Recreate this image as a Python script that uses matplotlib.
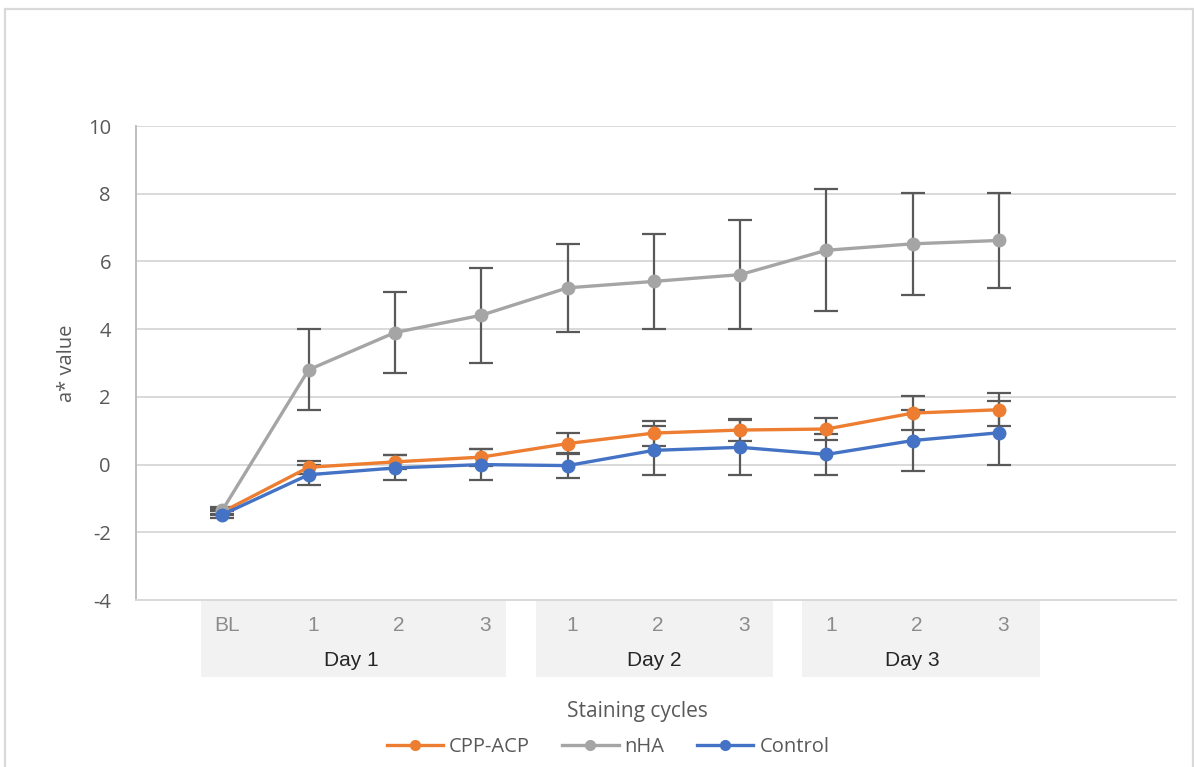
import numpy as np
import matplotlib
matplotlib.use("Agg")
import matplotlib.pyplot as plt
from matplotlib.patches import Rectangle
from matplotlib.lines import Line2D

# --- dados ---
ciclos = ['BL', '1', '2', '3', '1', '2', '3', '1', '2', '3']
dias = ['Day 1', 'Day 2', 'Day 3']
grupos = [(0, 3), (4, 6), (7, 9)]

cpp_acp = [-1.40, -0.08, 0.08, 0.22, 0.62, 0.93, 1.02, 1.05, 1.52, 1.62]
cpp_err = [0.10, 0.20, 0.20, 0.25, 0.30, 0.37, 0.33, 0.32, 0.50, 0.48]

nha = [-1.35, 2.80, 3.90, 4.41, 5.22, 5.41, 5.61, 6.33, 6.52, 6.62]
nha_err = [0.10, 1.20, 1.20, 1.40, 1.30, 1.40, 1.60, 1.80, 1.50, 1.40]

controle = [-1.48, -0.30, -0.10, 0.00, -0.03, 0.42, 0.51, 0.30, 0.71, 0.94]
controle_err = [0.10, 0.30, 0.37, 0.47, 0.37, 0.72, 0.81, 0.60, 0.90, 0.95]

series = [
    ('CPP-ACP', cpp_acp, cpp_err, '#ED7D31'),
    ('nHA', nha, nha_err, '#A5A5A5'),
    ('Control', controle, controle_err, '#4472C4'),
]

fonte = ['Open Sans', 'DejaVu Sans']
fonte_cat = ['Liberation Sans Narrow', 'Liberation Sans', 'DejaVu Sans']
plt.rcParams['font.family'] = fonte
plt.rcParams['axes.unicode_minus'] = False

fig = plt.figure(figsize=(11.94, 7.67), dpi=100)
ax = fig.add_axes([136 / 1194, 1 - 600 / 767, 1040 / 1194, 474 / 767])

x = np.arange(len(ciclos))
for nome, vals, err, cor in series:
    ax.errorbar(x, vals, yerr=err, color=cor, lw=2.4, marker='o', ms=9,
                ecolor='#595959', elinewidth=1.6, capsize=8.5, capthick=1.6,
                label=nome, zorder=3)

ax.set_xlim(-1, 11.05)
ax.set_ylim(-4, 10)
ax.set_yticks(np.arange(-4, 11, 2))
ax.grid(axis='y', color='#D9D9D9', lw=1.4)
ax.set_axisbelow(True)
for lado in ['top', 'right']:
    ax.spines[lado].set_visible(False)
ax.spines['left'].set_color('#BFBFBF')
ax.spines['left'].set_linewidth(1.4)
ax.spines['bottom'].set_color('#D9D9D9')
ax.spines['bottom'].set_linewidth(1.4)
ax.tick_params(axis='y', length=0, pad=18, labelsize=14.5, labelcolor='#595959')
ax.set_xticks([])

# rotulos de categoria em dois niveis, com fundo cinza
trans = ax.get_xaxis_transform()
pads = [(0.25, 0.29), (0.36, 0.38), (0.28, 0.47)]
for (ini, fim), dia, (pe, pd) in zip(grupos, dias, pads):
    ax.add_patch(Rectangle((ini - pe, -0.163), (fim + pd) - (ini - pe), 0.163,
                           transform=trans, facecolor='#F2F2F2', edgecolor='none',
                           clip_on=False, zorder=0))
    ax.text((ini + fim) / 2, -0.127, dia, transform=trans, ha='center', va='center',
            fontsize=15, color='#262626', family=fonte_cat)
for xi, rot in zip(x, ciclos):
    ax.text(xi + 0.05, -0.053, rot, transform=trans, ha='center', va='center',
            fontsize=15, color='#8C8C8C', family=fonte_cat)

ax.set_ylabel('a* value', fontsize=14.5, color='#595959', labelpad=8)
fig.text(637 / 1194, 1 - 711 / 767, 'Staining cycles', ha='center', va='center',
         fontsize=15, color='#595959')

handles = [Line2D([], [], color=c, lw=2.4, marker='o', ms=7) for _, _, _, c in series]
fig.legend(handles, [s[0] for s in series], loc='center', ncol=3,
           bbox_to_anchor=(608 / 1194, 1 - 747 / 767), frameon=False,
           fontsize=14.5, labelcolor='#595959', handlelength=2.8,
           handletextpad=0.3, columnspacing=1.6)

# moldura do grafico
fig.add_artist(Rectangle((5 / 1194, -0.05), 1188 / 1194, 1.05 - 9 / 767,
                         transform=fig.transFigure, fill=False,
                         edgecolor='#D9D9D9', lw=1.6))

fig.savefig('out.png', dpi=100)
